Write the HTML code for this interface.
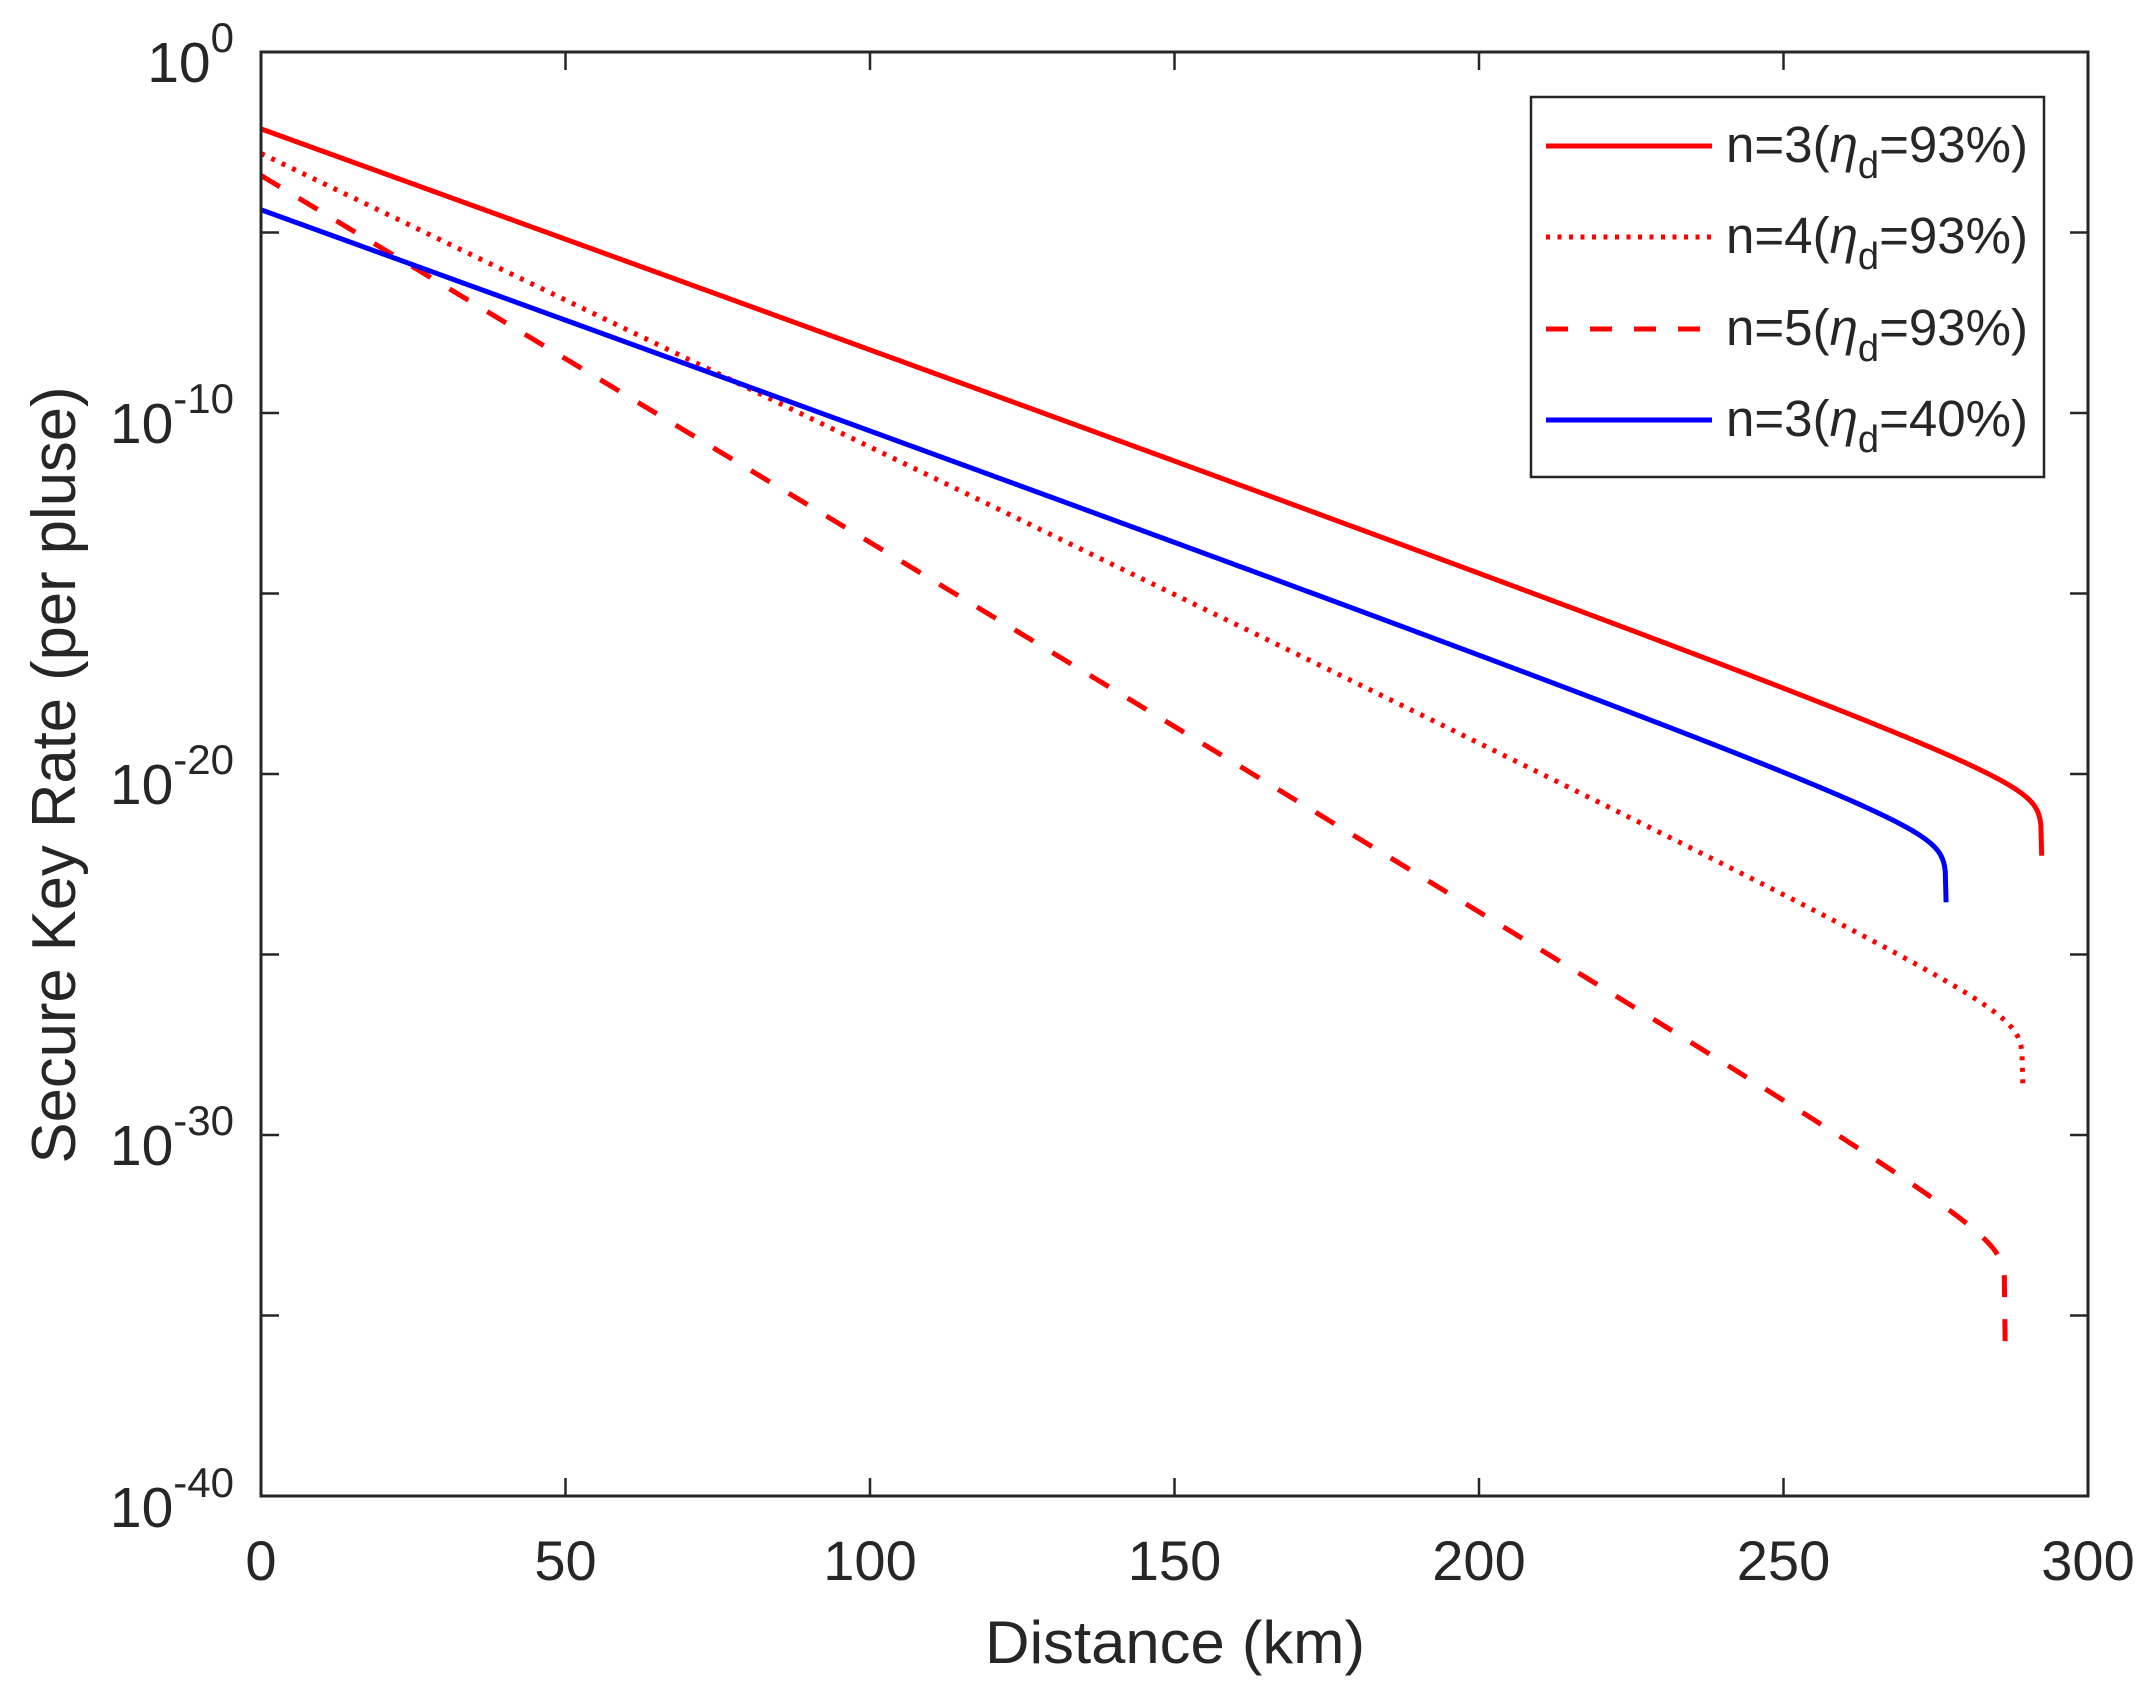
<!DOCTYPE html>
<html><head><meta charset="utf-8"><style>
html,body{margin:0;padding:0;background:#fff}
svg{display:block}
text{font-family:"Liberation Sans",Arial,sans-serif;fill:#262626}
</style></head><body>
<svg id="s" width="2151" height="1697" viewBox="0 0 2151 1697" xmlns="http://www.w3.org/2000/svg">
<rect width="2151" height="1697" fill="#fff"/>
<g id="ticks" stroke="#262626" stroke-width="2.5"></g>
<g id="curves" fill="none" stroke-width="5"></g>
<rect x="261" y="52" width="1827" height="1444" fill="none" stroke="#262626" stroke-width="3"/>
<g font-size="56" text-anchor="middle">
<text x="261" y="1580">0</text><text x="565.5" y="1580">50</text><text x="870" y="1580">100</text>
<text x="1174.5" y="1580">150</text><text x="1479" y="1580">200</text><text x="1783.5" y="1580">250</text><text x="2088" y="1580">300</text>
</g>
<g font-size="57" text-anchor="end">
<text x="234" y="82">10<tspan font-size="42" dy="-30">0</tspan></text>
<text x="234" y="443">10<tspan font-size="42" dy="-30">-10</tspan></text>
<text x="234" y="804">10<tspan font-size="42" dy="-30">-20</tspan></text>
<text x="234" y="1165">10<tspan font-size="42" dy="-30">-30</tspan></text>
<text x="234" y="1527">10<tspan font-size="42" dy="-30">-40</tspan></text>
</g>
<text x="1175" y="1663" font-size="60" text-anchor="middle" textLength="380" lengthAdjust="spacingAndGlyphs">Distance (km)</text>
<text transform="translate(75,775) rotate(-90)" font-size="62" text-anchor="middle" textLength="777" lengthAdjust="spacingAndGlyphs">Secure Key Rate (per pluse)</text>
<rect x="1531" y="97" width="513" height="380" fill="#fff" stroke="#262626" stroke-width="2.5"/>
<g stroke-width="5">
<line x1="1546" y1="146" x2="1712" y2="146" stroke="#ff0000"/>
<line x1="1546" y1="237" x2="1712" y2="237" stroke="#ff0000" stroke-dasharray="4,7.5"/>
<line x1="1546" y1="329" x2="1712" y2="329" stroke="#ff0000" stroke-dasharray="22,22"/>
<line x1="1546" y1="420" x2="1712" y2="420" stroke="#0000ff"/>
</g>
<g font-size="51">
<text x="1726" y="162" textLength="302" lengthAdjust="spacingAndGlyphs">n=3(<tspan font-style="italic">η</tspan><tspan font-size="38" dy="16">d</tspan><tspan dy="-16">=93%)</tspan></text>
<text x="1726" y="253" textLength="302" lengthAdjust="spacingAndGlyphs">n=4(<tspan font-style="italic">η</tspan><tspan font-size="38" dy="16">d</tspan><tspan dy="-16">=93%)</tspan></text>
<text x="1726" y="345" textLength="302" lengthAdjust="spacingAndGlyphs">n=5(<tspan font-style="italic">η</tspan><tspan font-size="38" dy="16">d</tspan><tspan dy="-16">=93%)</tspan></text>
<text x="1726" y="436" textLength="302" lengthAdjust="spacingAndGlyphs">n=3(<tspan font-style="italic">η</tspan><tspan font-size="38" dy="16">d</tspan><tspan dy="-16">=40%)</tspan></text>
</g>
</svg>
<script>
(function(){
var NS="http://www.w3.org/2000/svg";
var X0=261,X1=2088,Y0=52,Y1=1496;
function px(x){return X0+(X1-X0)*x/300;}
function py(y){return Y0-(Y1-Y0)*y/40;}
var t=document.getElementById('ticks'),d="";
for(var i=1;i<6;i++){var x=px(i*50);d+="M"+x+" "+Y1+"V"+(Y1-18)+"M"+x+" "+Y0+"V"+(Y0+18);}
for(var j=1;j<8;j++){var y=py(-5*j);d+="M"+X0+" "+y+"H"+(X0+18)+"M"+X1+" "+y+"H"+(X1-18);}
var p=document.createElementNS(NS,'path');p.setAttribute('d',d);t.appendChild(p);
var series=[
 {a:-2.13,b:0.0603,xm:292.4,c:0.5,col:"#ff0000",dash:null,e:1e-5},
 {a:-2.81,b:0.0804,xm:289.3,c:0.5,col:"#ff0000",dash:"4,7.5",e:1e-5},
 {a:-3.42,b:0.1007,xm:286.4,c:0.5,col:"#ff0000",dash:"22,22",e:1e-7},
 {a:-4.37,b:0.0603,xm:276.7,c:0.5,col:"#0000ff",dash:null,e:1e-5}
];
var g=document.getElementById('curves');
series.forEach(function(s){
  var pts=[];
  for(var k=0;k<=2000;k++){
    var x=s.xm*k/2000;
    if(k==2000)x=s.xm*(1-s.e);
    var y=s.a-s.b*x+s.c*Math.log10(1-x/s.xm);
    pts.push(px(x).toFixed(2)+","+py(y).toFixed(2));
  }
  var pl=document.createElementNS(NS,'polyline');
  pl.setAttribute('points',pts.join(' '));
  pl.setAttribute('stroke',s.col);
  if(s.dash)pl.setAttribute('stroke-dasharray',s.dash);
  g.appendChild(pl);
});
})();
</script>
</body></html>
